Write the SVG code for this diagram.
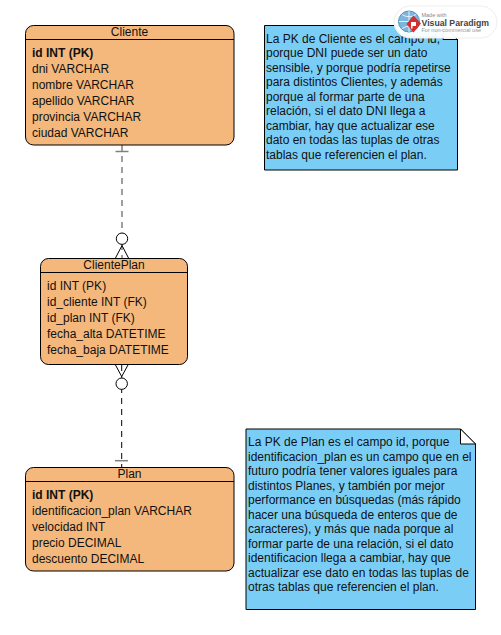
<svg xmlns="http://www.w3.org/2000/svg" width="501" height="635" viewBox="0 0 501 635">
<style>
text{font-family:"Liberation Sans",Arial,sans-serif;font-size:12px;fill:#111}
.entity{fill:#F4B87C;stroke:#000;stroke-width:1}
.hdr{stroke:#000;stroke-width:1;fill:none}
.t{text-anchor:middle}
.b{font-weight:bold}
.note{fill:#7ACEF6;stroke:#000;stroke-width:1}
.fold{fill:#fff;stroke:#000;stroke-width:1}
.dash-g{stroke:#808080;stroke-width:1.5;stroke-dasharray:6 5;fill:none}
.dash-k{stroke:#000;stroke-width:1;stroke-dasharray:6 5;fill:none}
.bar{stroke:#808080;stroke-width:1.5;fill:none}
.crow{stroke:#000;stroke-width:1;fill:none}
.circ{fill:#fff;stroke:#000;stroke-width:1}
</style>
<g id="connectors">
<path class="dash-g" d="M122 145V258"/>
<path class="bar" d="M115.500 151.500H128.500"/>
<path class="crow" d="M115.500 258L122 245.500L128.500 258"/>
<circle class="circ" cx="122" cy="238.700" r="5.700"/>
<path class="dash-k" d="M121.700 365V467"/>
<path class="bar" d="M115 460.700H128"/>
<path class="crow" d="M115.500 365L121.700 376.500L128 365"/>
<circle class="circ" cx="121.700" cy="383.700" r="5.700"/>
</g>
<g id="cliente">
<rect class="entity" x="25.500" y="25.500" width="208.500" height="119.500" rx="8"/>
<path class="hdr" d="M25.500 39.500H234"/>
<text class="t" x="129.500" y="36">Cliente</text>
<text class="b" x="32" y="56.500">id INT (PK)</text>
<text x="32" y="72.500">dni VARCHAR</text>
<text x="32" y="88.500">nombre VARCHAR</text>
<text x="32" y="104.500">apellido VARCHAR</text>
<text x="32" y="120.500">provincia VARCHAR</text>
<text x="32" y="136.500">ciudad VARCHAR</text>
</g>
<g id="clienteplan">
<rect class="entity" x="40.500" y="258.500" width="147" height="106" rx="8"/>
<path class="hdr" d="M40.500 272.500H187.500"/>
<text class="t" x="114" y="269">ClientePlan</text>
<text x="47" y="289.500">id INT (PK)</text>
<text x="47" y="305.500">id_cliente INT (FK)</text>
<text x="47" y="321.500">id_plan INT (FK)</text>
<text x="47" y="337.500">fecha_alta DATETIME</text>
<text x="47" y="353.500">fecha_baja DATETIME</text>
</g>
<g id="plan">
<rect class="entity" x="25.500" y="467.500" width="208.500" height="103.500" rx="8"/>
<path class="hdr" d="M25.500 481.500H234"/>
<text class="t" x="129.500" y="478">Plan</text>
<text class="b" x="32" y="498.500">id INT (PK)</text>
<text x="32" y="514.500">identificacion_plan VARCHAR</text>
<text x="32" y="530.500">velocidad INT</text>
<text x="32" y="546.500">precio DECIMAL</text>
<text x="32" y="562.500">descuento DECIMAL</text>
</g>
<g id="note-cliente">
<path class="note" d="M264.500 25.500H443L457.500 39.500V170H264.500Z"/>
<path class="fold" d="M443 25.500V39.500H457.500Z"/>
<text x="266" y="42.500">La PK de Cliente es el campo id,</text>
<text x="266" y="57">porque DNI puede ser un dato</text>
<text x="266" y="71.500">sensible, y porque podría repetirse</text>
<text x="266" y="86">para distintos Clientes, y además</text>
<text x="266" y="100.500">porque al formar parte de una</text>
<text x="266" y="115">relación, si el dato DNI llega a</text>
<text x="266" y="129.500">cambiar, hay que actualizar ese</text>
<text x="266" y="144">dato en todas las tuplas de otras</text>
<text x="266" y="158.500">tablas que referencien el plan.</text>
</g>
<g id="note-plan">
<path class="note" d="M246 429H460.500L475.500 444V609.500H246Z"/>
<path class="fold" d="M460.500 429V444H475.500Z"/>
<text x="248" y="446">La PK de Plan es el campo id, porque</text>
<text x="248" y="460.500">identificacion_plan es un campo que en el</text>
<text x="248" y="475">futuro podría tener valores iguales para</text>
<text x="248" y="489.500">distintos Planes, y también por mejor</text>
<text x="248" y="504">performance en búsquedas (más rápido</text>
<text x="248" y="518.500">hacer una búsqueda de enteros que de</text>
<text x="248" y="533">caracteres), y más que nada porque al</text>
<text x="248" y="547.500">formar parte de una relación, si el dato</text>
<text x="248" y="562">identificacion llega a cambiar, hay que</text>
<text x="248" y="576.500">actualizar ese dato en todas las tuplas de</text>
<text x="248" y="591">otras tablas que referencien el plan.</text>
</g>
<g id="watermark">
<rect x="394" y="6" width="103" height="32" rx="16" fill="#fff" fill-opacity="0.95" stroke="#eee" stroke-width="1"/>
<circle cx="409" cy="21.500" r="10.500" fill="#7DB6DC" stroke="#4E93C4" stroke-width="1"/>
<path d="M399 21.500H419M409 11V32M402 14.500Q409 19 416 14.500M402 28.500Q409 24 416 28.500" fill="none" stroke="#fff" stroke-width="0.800"/>
<path d="M413.500 15.500L421 23.500L413.500 32.500L406.500 24Z" fill="#D32F2F"/>
<path d="M411 22H416V26H412.500V28.500H411Z" fill="#fff"/>
<text x="421.500" y="16.500" textLength="25" lengthAdjust="spacingAndGlyphs" style="font-size:5.800px;fill:#888">Made with</text>
<text x="421.500" y="25.500" textLength="67.500" lengthAdjust="spacingAndGlyphs" style="font-size:9.500px;font-weight:bold;fill:#444">Visual Paradigm</text>
<text x="421.500" y="32" textLength="59.500" lengthAdjust="spacingAndGlyphs" style="font-size:5.800px;fill:#999">For non-commercial use</text>
</g>
</svg>
